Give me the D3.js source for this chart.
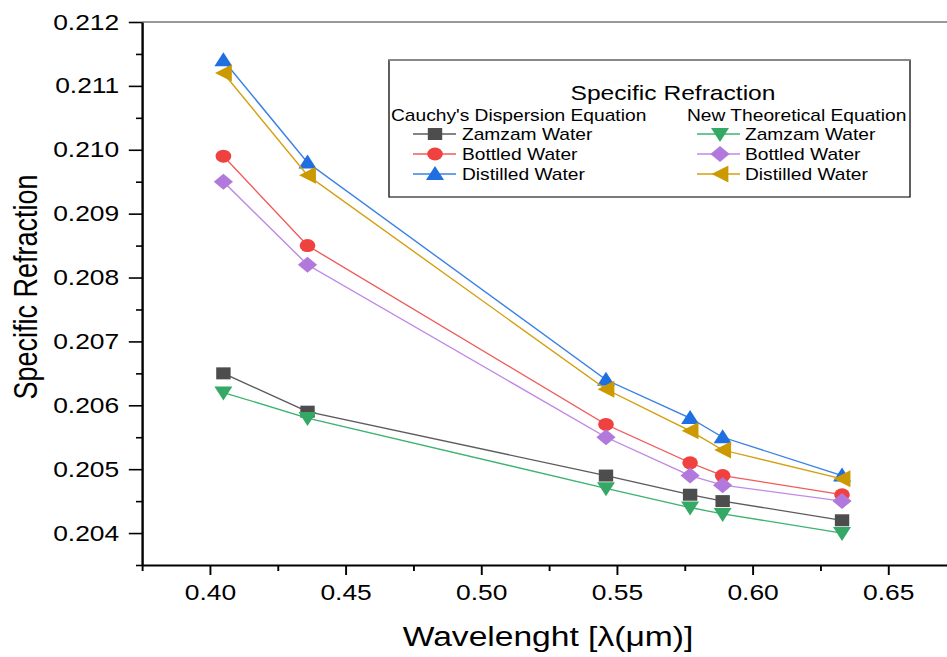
<!DOCTYPE html>
<html>
<head>
<meta charset="utf-8">
<script src="https://cdn.jsdelivr.net/npm/d3@7"></script>
<style>
    body { margin: 0; background: #fff; }
    svg { display: block; font-family: "Liberation Sans", Arial, sans-serif; }
</style>
</head>
<body>
<svg></svg>
<script>
// wavelengths in micrometre
const wavelengths = [0.405, 0.436, 0.546, 0.577, 0.589, 0.633];

// Cauchy's dispersion equation
const zamzamCauchy = [0.2065, 0.2059, 0.2049, 0.2046, 0.2045, 0.2042];
const bottledCauchy = [0.2099, 0.2085, 0.2057, 0.2051, 0.2049, 0.2046];
const distilledCauchy = [0.2114, 0.2098, 0.2064, 0.2058, 0.2055, 0.2049];

// new theoretical equation
const zamzamNew = [0.2062, 0.2058, 0.2047, 0.2044, 0.2043, 0.2040];
const bottledNew = [0.2095, 0.2082, 0.2055, 0.2049, 0.20475, 0.2045];
const distilledNew = [0.2112, 0.2096, 0.20625, 0.2056, 0.2053, 0.20485];

const xTicks = [0.40, 0.45, 0.50, 0.55, 0.60, 0.65];
const xMinor = [0.375, 0.425, 0.475, 0.525, 0.575, 0.625, 0.675];
const yTicks = [0.204, 0.205, 0.206, 0.207, 0.208, 0.209, 0.210, 0.211, 0.212];
const yMinor = [0.2035, 0.2045, 0.2055, 0.2065, 0.2075, 0.2085, 0.2095, 0.2105, 0.2115];

const series = [
    { name: "Zamzam Water", values: zamzamCauchy, col: 0, row: 0, shape: "square", fill: "#4d4d4d", line: "#5c5c5c" },
    { name: "Bottled Water", values: bottledCauchy, col: 0, row: 1, shape: "circle", fill: "#f04141", line: "#f15b5b" },
    { name: "Distilled Water", values: distilledCauchy, col: 0, row: 2, shape: "up", fill: "#1f6fe0", line: "#3a82e6" },
    { name: "Zamzam Water", values: zamzamNew, col: 1, row: 0, shape: "down", fill: "#35a865", line: "#3cb371" },
    { name: "Bottled Water", values: bottledNew, col: 1, row: 1, shape: "diamond", fill: "#b279dc", line: "#c08ae6" },
    { name: "Distilled Water", values: distilledNew, col: 1, row: 2, shape: "left", fill: "#cc9a00", line: "#d4a010" }
];

function markerPath(shape) {
    if (shape == "square") return "M-6,-6H6V6H-6Z";
    if (shape == "up") return "M0,-8L7.5,6H-7.5Z";
    if (shape == "down") return "M0,8L7.5,-6H-7.5Z";
    if (shape == "left") return "M-7,0L7,-8.5V8.5Z";
    if (shape == "diamond") return "M0,-8L8,0L0,8L-8,0Z";
    return d3.symbol(d3.symbolCircle, 133)();
}

function drawChart() {

    var svgWidth = 947, svgHeight = 657;
    // the original picture is a bit wider than tall, everything is stretched sideways
    var stretch = 1.2;

    var svg = d3.select("svg")
        .attr("width", svgWidth)
        .attr("height", svgHeight);

    var g = svg.append("g")
        .attr("transform", "scale(" + stretch + ",1)");

    var x = d3.scaleLinear()
        .domain([0.375, 0.675])
        .range([142 / stretch, 956 / stretch]);

    var y = d3.scaleLinear()
        .domain([0.2035, 0.212])
        .range([565, 22]);

    // top frame line
    g.append("line")
        .attr("x1", x(0.375)).attr("x2", x(0.675))
        .attr("y1", y(0.212)).attr("y2", y(0.212))
        .attr("stroke", "#777")
        .attr("stroke-width", 1.5);

    g.append("g")
        .attr("transform", "translate(" + x(0.375) + ",0)")
        .call(d3.axisLeft(y).tickValues(yTicks).tickSize(11).tickSizeOuter(0)
            .tickPadding(8).tickFormat(d3.format(".3f")));

    g.append("g")
        .attr("transform", "translate(" + x(0.375) + ",0)")
        .call(d3.axisLeft(y).tickValues(yMinor).tickSize(5).tickFormat(""))
        .select(".domain").remove();

    g.append("g")
        .attr("transform", "translate(0," + y(0.2035) + ")")
        .call(d3.axisBottom(x).tickValues(xTicks).tickSize(10).tickSizeOuter(0)
            .tickPadding(9).tickFormat(d3.format(".2f")));

    g.append("g")
        .attr("transform", "translate(0," + y(0.2035) + ")")
        .call(d3.axisBottom(x).tickValues(xMinor).tickSize(6).tickFormat(""))
        .select(".domain").remove();

    svg.selectAll(".tick line").attr("stroke", "#000").attr("stroke-width", 1.6);
    svg.selectAll(".domain").attr("stroke", "#000").attr("stroke-width", 2);
    svg.selectAll(".tick text").attr("fill", "#000").style("font-size", "22px");

    g.append("text")
        .attr("x", 548 / stretch)
        .attr("y", 646)
        .attr("text-anchor", "middle")
        .style("font-size", "28px")
        .text("Wavelenght [λ(μm)]");

    g.append("text")
        .attr("transform", "translate(31,287) rotate(-90)")
        .attr("text-anchor", "middle")
        .style("font-size", "27px")
        .text("Specific Refraction");

    var line = d3.line()
        .x(function (d, i) { return x(wavelengths[i]); })
        .y(function (d) { return y(d); });

    series.forEach(function (s) {
        g.append("path")
            .datum(s.values)
            .attr("fill", "none")
            .attr("stroke", s.line)
            .attr("stroke-width", 1.3)
            .attr("d", line);

        g.selectAll(null)
            .data(s.values)
            .enter()
            .append("path")
            .attr("transform", function (d, i) {
                return "translate(" + x(wavelengths[i]) + "," + y(d) + ")";
            })
            .attr("d", markerPath(s.shape))
            .attr("fill", s.fill);
    });

    // legend
    var lg = g.append("g");

    lg.append("rect")
        .attr("x", 389 / stretch)
        .attr("y", 60)
        .attr("width", (910 - 389) / stretch)
        .attr("height", 137)
        .attr("fill", "#fff")
        .attr("stroke", "#222")
        .attr("stroke-width", 1.2);

    // grey top edge of the legend box
    lg.append("line")
        .attr("x1", 389 / stretch).attr("x2", 910 / stretch)
        .attr("y1", 60).attr("y2", 60)
        .attr("stroke", "#888")
        .attr("stroke-width", 2);

    lg.append("text")
        .attr("x", 673 / stretch)
        .attr("y", 100)
        .attr("text-anchor", "middle")
        .style("font-size", "20.5px")
        .text("Specific Refraction");

    lg.append("text")
        .attr("x", 391 / stretch)
        .attr("y", 121)
        .style("font-size", "16px")
        .text("Cauchy's Dispersion Equation");

    lg.append("text")
        .attr("x", 687 / stretch)
        .attr("y", 121)
        .style("font-size", "16px")
        .text("New Theoretical Equation");

    var colX = [[413, 435, 462], [697, 720, 745]];
    var rowY = [134, 154, 174];

    series.forEach(function (s) {
        var c = colX[s.col];
        var cy = rowY[s.row];
        lg.append("line")
            .attr("x1", c[0] / stretch).attr("x2", (c[0] + 43) / stretch)
            .attr("y1", cy).attr("y2", cy)
            .attr("stroke", s.line)
            .attr("stroke-width", 1.3);
        lg.append("path")
            .attr("transform", "translate(" + c[1] / stretch + "," + cy + ")")
            .attr("d", markerPath(s.shape))
            .attr("fill", s.fill);
        lg.append("text")
            .attr("x", c[2] / stretch)
            .attr("y", cy + 6)
            .style("font-size", "16px")
            .text(s.name);
    });
}

drawChart();
</script>
</body>
</html>
